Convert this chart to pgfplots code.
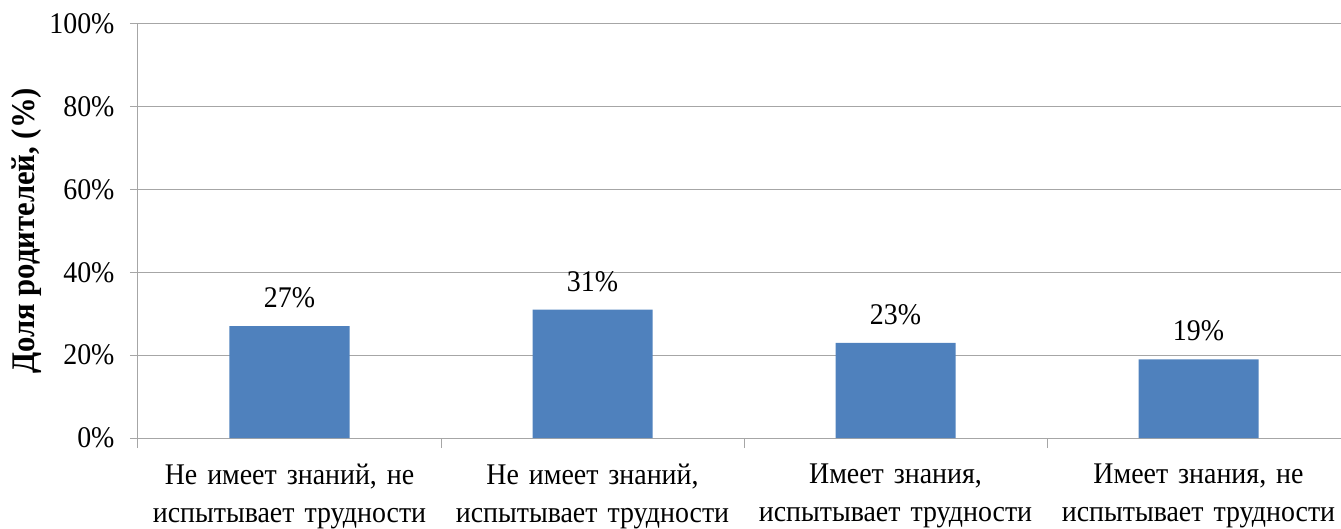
\documentclass[border=0pt]{standalone}
\usepackage{fontspec}
\setmainfont{Liberation Serif}[FakeStretch=0.93]
\usepackage{pgfplots}
\pgfplotsset{compat=1.18}

\definecolor{barblue}{HTML}{4F81BD}
\definecolor{gridgray}{HTML}{A6A6A6}

\begin{document}
\begin{tikzpicture}
\begin{axis}[
  at={(0,0)}, anchor=south west,
  scale only axis,
  x=303pt, y=4.14pt,
  xmin=-0.5, xmax=3.4703,
  ymin=0, ymax=100,
  axis x line*=bottom,
  axis y line*=left,
  axis line style={draw=gridgray, line width=1pt},
  ymajorgrids,
  grid style={draw=gridgray, line width=1pt},
  ytick={0,20,40,60,80,100},
  yticklabel={\pgfmathprintnumber{\tick}\%},
  /pgf/number format/assume math mode=true,
  tick align=outside,
  major tick length=8pt,
  minor tick length=10pt,
  ytick style={draw=gridgray, line width=1pt},
  xtick={0,1,2,3},
  xtick style={draw=none},
  minor xtick={-0.5,0.5,1.5,2.5},
  minor x tick style={draw=gridgray, line width=1pt},
  xticklabels={
    {Не имеет знаний, не\\испытывает трудности},
    {Не имеет знаний,\\испытывает трудности},
    {Имеет знания,\\испытывает трудности},
    {Имеет знания, не\\испытывает трудности}},
  xticklabel style={text width=300pt, align=center,
    font=\fontsize{30}{38}\selectfont, inner sep=0pt, yshift=-18pt},
  yticklabel style={font=\fontsize{30}{34}\selectfont, xshift=-12pt},
  ylabel={\textbf{Доля родителей, (\%)}},
  ylabel style={font=\fontsize{33}{36}\selectfont, yshift=1pt},
  clip=false,
]
\addplot[ybar, bar width=120pt, fill=barblue, draw=none,
  nodes near coords={\pgfmathprintnumber{\pgfplotspointmeta}\%},
  nodes near coords style={anchor=south, inner sep=0pt, yshift=18pt,
    font=\fontsize{30}{34}\selectfont, text=black},
] coordinates {(0,27) (1,31) (2,23) (3,19)};
\end{axis}
\pgfresetboundingbox
\path[use as bounding box] (-138pt,-90pt) rectangle (1203pt,438pt);
\end{tikzpicture}
\end{document}
